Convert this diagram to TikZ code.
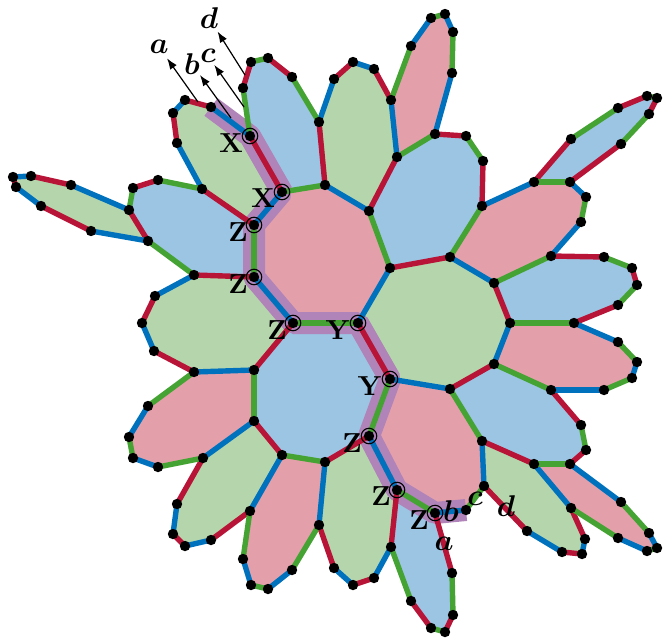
\documentclass[tikz,border=0pt]{standalone}
\usepackage{amsmath,amssymb}
\usepackage{xcolor}
\definecolor{edgered}{RGB}{184,20,56}
\definecolor{edgeblue}{RGB}{0,114,189}
\definecolor{edgegreen}{RGB}{68,163,50}
\definecolor{facered}{RGB}{228,160,170}
\definecolor{faceblue}{RGB}{155,197,227}
\definecolor{facegreen}{RGB}{181,214,172}
\definecolor{bandpurple}{RGB}{176,132,184}
\usetikzlibrary{arrows.meta}
\pgfdeclarelayer{faces}
\pgfdeclarelayer{edges}
\pgfsetlayers{faces,edges,main}
\tikzset{
    vtx/.style      = {circle, fill=black, inner sep=0pt, minimum size=10.4pt},
    probe/.style    = {circle, draw=black, line width=1.1pt, inner sep=0pt,
                       minimum size=15.5pt},
    redface/.style  = {fill=facered, rounded corners=4pt},
    blueface/.style = {fill=faceblue, rounded corners=4pt},
    greenface/.style= {fill=facegreen, rounded corners=4pt},
    redline/.style  = {draw=edgered, line width=5.4pt},
    blueline/.style = {draw=edgeblue, line width=5.4pt},
    greenline/.style= {draw=edgegreen, line width=5.4pt},
    band/.style     = {draw=bandpurple, line width=22pt, line join=bevel},
    oplbl/.style    = {scale=2.75, inner sep=0pt},
    wirelbl/.style  = {scale=3, inner sep=0pt},
    pointer/.style  = {-{Latex[length=11pt,width=8pt]}, line width=1.2pt}
}
\begin{document}
\begin{tikzpicture}[x=1pt, y=-1pt]
\useasboundingbox (0,0) rectangle (668,637);

% --- Central octagon ---
\foreach \name/\px/\py in
   {c1/325/185, c2/369/211, c3/390/268, c4/358/323,
    c5/293/323, c6/254/277, c7/254/225, c8/282/192}
   \node[vtx] (\name) at (\px,\py) {};

% --- Inner ring ---
\foreach \name/\px/\py in
   {r1/450/257, r2/494/283, r3/510/323, r4/494/364, r5/450/389, r6/390/379,
    r7/369/436, r8/325/462, r9/282/455, r10/254/421, r11/254/370, r12/194/372,
    r13/194/275, r14/202/189, r15/250/136, r16/319/122, r17/397/157, r18/482/206,
    r19/397/490, r20/435/513, r21/482/441, r22/534/464}
   \node[vtx] (\name) at (\px,\py) {};

% --- Outer boundary, clockwise ---
\foreach \name/\px/\py in
   {o1/177/143, o2/173/113, o3/185/100, o4/211/107, o5/243/88, o6/251/62,
    o7/268/58, o8/292/77, o9/334/79, o10/353/62, o11/374/69, o12/391/100,
    o13/411/46, o14/431/18, o15/445/14, o16/453/32, o17/452/73, o18/435/134,
    o19/466/136, o20/483/161, o21/534/182, o22/571/139, o23/618/108, o24/647/96,
    o25/657/98, o26/649/114, o27/621/144, o28/570/182, o29/586/197, o30/581/222,
    o31/551/256, o32/604/257, o33/632/268, o34/637/285, o35/618/305, o36/574/323,
    o37/618/342, o38/637/362, o39/632/378, o40/604/390, o41/551/390, o42/581/425,
    o43/586/450, o44/570/464, o45/621/502, o46/649/533, o47/657/548, o48/647/551,
    o49/618/538, o50/571/508, o51/585/539, o52/582/554, o53/562/552, o54/527/531,
    o55/484/486, o56/466/510, o57/452/573, o58/453/615, o59/445/632, o60/431/628,
    o61/411/601, o62/391/547, o63/374/578, o64/353/585, o65/334/568, o66/319/525,
    o67/292/570, o68/268/589, o69/251/585, o70/243/559, o71/250/511, o72/211/540,
    o73/185/546, o74/173/534, o75/177/504, o76/203/458, o77/158/467, o78/133/458,
    o79/129/437, o80/148/406, o81/154/351, o82/142/323, o83/155/296, o84/148/241,
    o85/91/231, o86/41/206, o87/16/187, o88/13/177, o89/31/176, o90/71/185,
    o91/129/210, o92/133/188, o93/158/180}
   \node[vtx] (\name) at (\px,\py) {};

% --- Faces ---
\begin{pgfonlayer}{faces}
\foreach \tone/\pa/\pb/\pc/\pd/\pe/\pf/\pg/\ph in
   {redface/c1/c2/c3/c4/c5/c6/c7/c8,
    greenface/c3/r1/r2/r3/r4/r5/r6/c4,
    blueface/c5/c4/r6/r7/r8/r9/r10/r11,
    blueface/c2/r17/o18/o19/o20/r18/r1/c3,
    greenface/r16/o9/o10/o11/o12/r17/c2/c1,
    blueface/o6/o7/o8/r16/c1/c8/r15/o5,
    greenface/r15/c8/c7/r14/o1/o2/o3/o4,
    blueface/c7/c6/r13/o84/o91/o92/o93/r14,
    greenface/o91/o84/o85/o86/o87/o88/o89/o90,
    greenface/c6/c5/r11/r12/o81/o82/o83/r13,
    redface/r11/r10/o76/o77/o78/o79/o80/r12,
    greenface/r10/r9/o71/o72/o73/o74/o75/o76,
    redface/r9/r8/o66/o67/o68/o69/o70/o71,
    greenface/r8/r7/r19/o62/o63/o64/o65/o66,
    redface/r6/r5/r21/o55/o56/r20/r19/r7,
    blueface/r19/r20/o57/o58/o59/o60/o61/o62,
    greenface/r21/r22/o50/o51/o52/o53/o54/o55,
    blueface/r5/r4/o41/o42/o43/o44/r22/r21,
    redface/r22/o44/o45/o46/o47/o48/o49/o50,
    redface/r4/r3/o36/o37/o38/o39/o40/o41,
    blueface/r2/o31/o32/o33/o34/o35/o36/r3,
    redface/r18/o21/o28/o29/o30/o31/r2/r1,
    blueface/o21/o22/o23/o24/o25/o26/o27/o28,
    redface/o12/o13/o14/o15/o16/o17/o18/r17}
   \fill[\tone] (\pa.center) -- (\pb.center) -- (\pc.center) -- (\pd.center)
      -- (\pe.center) -- (\pf.center) -- (\pg.center) -- (\ph.center) -- cycle;

% --- Highlighted string ---
\draw[band] (o4.center) -- (r15.center) -- (c8.center) -- (c7.center) -- (c6.center)
   -- (c5.center) -- (c4.center) -- (r6.center) -- (r7.center) -- (r19.center)
   -- (r20.center) -- (o56.center);
\end{pgfonlayer}

% --- Edges, one colour at a time ---
\begin{pgfonlayer}{edges}
\foreach \src/\dst in
   {r15/c8, r14/c7, o1/o2, o3/o4, c6/r13, o84/o91, o92/o93, o90/o89, o88/o87,
    o86/o85, c5/r11, r12/o81, o82/o83, r10/r9, o71/o72, o73/o74, o75/o76,
    r8/r7, r19/o62, o63/o64, o65/o66, c4/r6, r20/o57, o58/o59, o60/o61,
    r5/r4, o41/o42, o43/o44, r21/r22, o50/o51, o52/o53, o54/o55,
    r2/r3, o31/o32, o33/o34, o35/o36, c3/r1, r18/o20, o18/o19, c2/r17,
    o21/o22, o23/o24, o25/o26, o27/o28, c1/r16, o5/o6, o7/o8, o9/o10, o11/o12}
   \draw[redline] (\src.center) -- (\dst.center);
\foreach \src/\dst in
   {o4/r15, c8/c7, r14/o1, o2/o3, o91/o90, o89/o88, o87/o86, o85/o84,
    c6/c5, r11/r12, o81/o82, o83/r13, r10/o76, o77/o78, o79/o80,
    r9/o71, o72/o73, o74/o75, r8/o66, o67/o68, o69/o70, r7/r19, o62/o63, o64/o65,
    r6/r5, r21/o55, o56/r20, r22/o50, o51/o52, o53/o54, o44/o45, o46/o47, o48/o49,
    r3/r4, o36/o37, o38/o39, o40/o41, r2/r1, r18/o21, o28/o29, o30/o31,
    c4/c3, c2/c1, o12/r17, o13/o14, o15/o16, o17/o18, r16/o9, o10/o11}
   \draw[blueline] (\src.center) -- (\dst.center);
\foreach \src/\dst in
   {r15/o5, o6/o7, o8/r16, c1/c8, c7/c6, r14/o93, o92/o91, o84/r13,
    c5/c4, r11/r10, o76/o77, o78/o79, o80/r12, r9/r8, o66/o67, o68/o69, o70/o71,
    r6/r7, r19/r20, o55/o56, r21/r5, o57/o58, o59/o60, o61/o62,
    o50/o49, o45/o46, o47/o48, r22/o44, r4/o41, o42/o43, r3/o36, o37/o38, o39/o40,
    r2/o31, o32/o33, o34/o35, o21/o28, o29/o30, r1/r18, c2/c3, r17/o18, o19/o20,
    o12/o13, o14/o15, o16/o17, o22/o23, o24/o25, o26/o27}
   \draw[greenline] (\src.center) -- (\dst.center);
\end{pgfonlayer}

% --- Rings on the measured sites ---
\foreach \site in {r15, c8, c7, c6, c5, c4, r6, r7, r19, r20}
   \node[probe] (ring\site) at (\site) {};

% --- Operator labels ---
\node[oplbl] (opA) at (231,143) {$\mathbf{X}$};
\node[oplbl] (opB) at (263,198) {$\mathbf{X}$};
\node[oplbl] (opC) at (238,232) {$\mathbf{Z}$};
\node[oplbl] (opD) at (238,284) {$\mathbf{Z}$};
\node[oplbl] (opE) at (277,330) {$\mathbf{Z}$};
\node[oplbl] (opF) at (338,330) {$\mathbf{Y}$};
\node[oplbl] (opG) at (370,386) {$\mathbf{Y}$};
\node[oplbl] (opH) at (352,443) {$\mathbf{Z}$};
\node[oplbl] (opI) at (381,496) {$\mathbf{Z}$};
\node[oplbl] (opJ) at (419,520) {$\mathbf{Z}$};

% --- Wire labels, top left with their arrows ---
\node[wirelbl] (wireA) at (159,47) {$\boldsymbol{a}$};
\node[wirelbl] (wireB) at (192,64) {$\boldsymbol{b}$};
\node[wirelbl] (wireC) at (208,56) {$\boldsymbol{c}$};
\node[wirelbl] (wireD) at (209,18) {$\boldsymbol{d}$};
\coordinate (tailA) at (198,102);
\coordinate (tailB) at (231,118);
\coordinate (tailC) at (244,107);
\coordinate (tailD) at (245,75);
\foreach \src/\dst/\gap in {tailA/wireA/5pt, tailB/wireB/0pt, tailC/wireC/2pt, tailD/wireD/3pt}
   \draw[pointer, shorten >=\gap] (\src) -- (\dst);

% --- Wire labels, bottom right ---
\node[wirelbl] (wireE) at (444,544) {$\boldsymbol{a}$};
\node[wirelbl] (wireF) at (451,511) {$\boldsymbol{b}$};
\node[wirelbl] (wireG) at (475,499) {$\boldsymbol{c}$};
\node[wirelbl] (wireH) at (506,506) {$\boldsymbol{d}$};

\end{tikzpicture}
\end{document}
